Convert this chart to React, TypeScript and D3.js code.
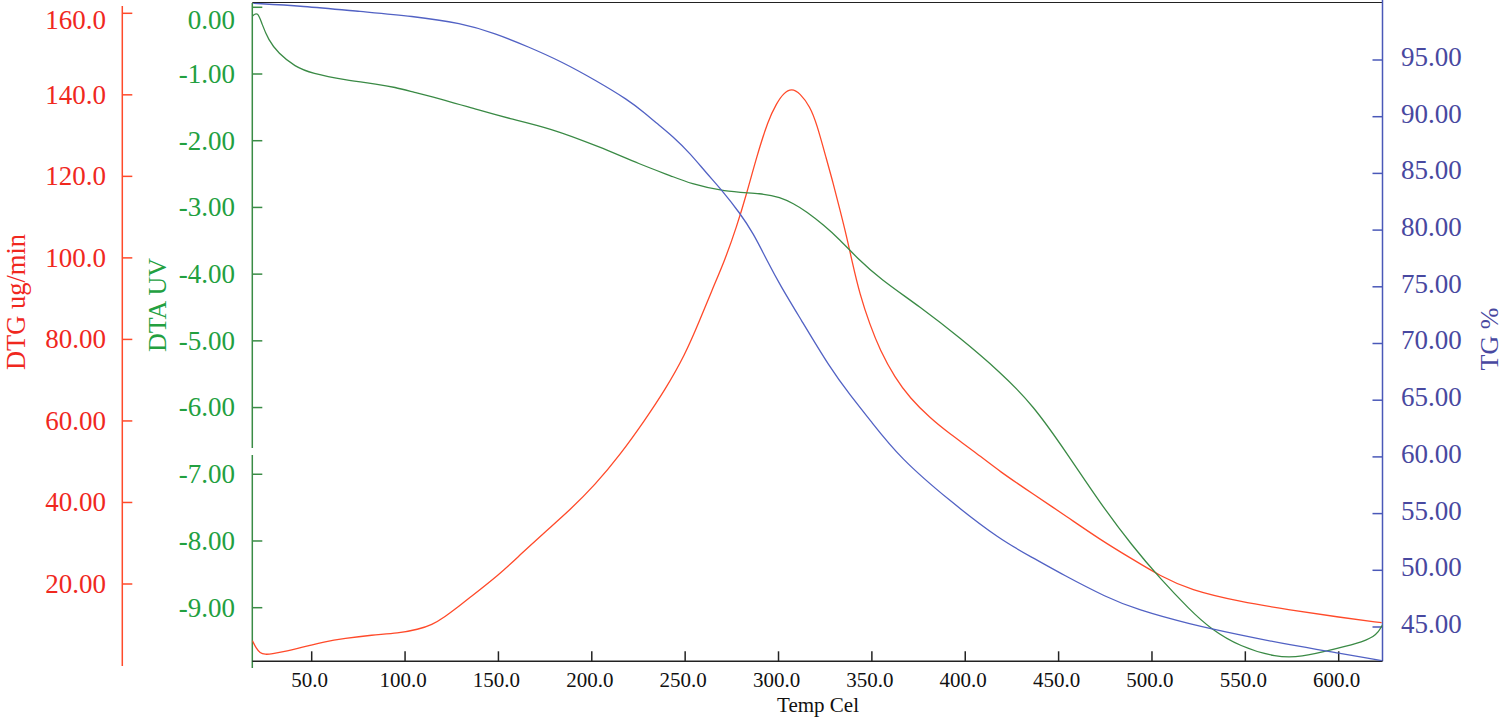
import React from 'react';
import * as d3 from 'd3';

// ---------- tick values and labels ----------
const tempTicks = [50, 100, 150, 200, 250, 300, 350, 400, 450, 500, 550, 600];
const tempTickLabels = ['50.0', '100.0', '150.0', '200.0', '250.0', '300.0', '350.0', '400.0', '450.0', '500.0', '550.0', '600.0'];
const dtgTicks = [20, 40, 60, 80, 100, 120, 140, 160];
const dtgTickLabels = ['20.00', '40.00', '60.00', '80.00', '100.0', '120.0', '140.0', '160.0'];
const dtaTicks = [0, -1, -2, -3, -4, -5, -6, -7, -8, -9];
const dtaTickLabels = ['0.00', '-1.00', '-2.00', '-3.00', '-4.00', '-5.00', '-6.00', '-7.00', '-8.00', '-9.00'];
const tgTicks = [95, 90, 85, 80, 75, 70, 65, 60, 55, 50, 45];
const tgTickLabels = ['95.00', '90.00', '85.00', '80.00', '75.00', '70.00', '65.00', '60.00', '55.00', '50.00', '45.00'];

// ---------- series ----------
const dtgTemp = [18.2, 20.2, 22.3, 25.0, 28.6, 35.7, 50.0, 55.4, 67.8, 82.1, 96.4, 107.1, 114.3, 121.4, 128.5, 133.0, 150.8, 161.5, 174.9, 188.3, 201.7, 215.1, 228.5, 239.2, 249.9, 257.9, 264.4, 271.3, 277.6, 283.0, 288.3, 294.5, 299.0, 302.6, 307.1, 311.5, 316.9, 320.4, 325.8, 329.3, 332.9, 336.5, 339.2, 343.6, 349.0, 354.3, 362.4, 370.4, 381.1, 391.8, 405.2, 418.6, 436.3, 454.5, 472.2, 489.8, 504.3, 520.4, 547.2, 573.9, 600.7, 623.0];
const dtgValues = [6.1, 4.3, 3.07, 2.7, 2.83, 3.39, 5.03, 5.7, 6.68, 7.49, 7.9, 8.89, 9.94, 11.98, 14.43, 16.07, 22.45, 27.11, 32.76, 38.15, 44.29, 51.65, 60.24, 67.6, 76.18, 84.77, 92.13, 99.49, 107.66, 115.85, 124.83, 133.84, 137.93, 140.39, 141.6, 140.39, 137.1, 133.0, 124.02, 118.31, 111.76, 105.21, 99.49, 90.9, 83.54, 77.41, 70.54, 65.63, 60.73, 56.8, 52.4, 47.55, 42.1, 36.5, 30.9, 26.0, 22.0, 18.53, 15.66, 13.62, 11.83, 10.51];

const dtaTemp = [18.3, 21.1, 23.2, 26.8, 32.1, 41.1, 50.0, 67.8, 85.7, 94.6, 103.6, 121.4, 139.2, 155.3, 177.6, 204.4, 225.8, 243.6, 252.6, 270.4, 291.8, 300.8, 307.9, 315.1, 324.0, 332.9, 341.9, 354.3, 375.8, 397.2, 418.6, 436.3, 454.5, 472.2, 489.8, 504.3, 520.4, 531.1, 547.2, 566.8, 579.3, 599.0, 613.2, 620.4, 623.4];
const dtaValues = [-0.13, -0.066, -0.24, -0.49, -0.69, -0.891, -0.99, -1.09, -1.154, -1.199, -1.265, -1.39, -1.54, -1.664, -1.81, -2.094, -2.354, -2.54, -2.64, -2.765, -2.789, -2.849, -2.939, -3.064, -3.26, -3.484, -3.754, -4.07, -4.49, -4.955, -5.465, -5.96, -6.687, -7.432, -8.087, -8.561, -9.036, -9.31, -9.586, -9.745, -9.745, -9.61, -9.511, -9.411, -9.261];

const tgTemp = [18.7, 44.6, 76.8, 103.6, 130.3, 148.2, 166.0, 183.9, 201.7, 219.6, 228.5, 234.8, 243.6, 252.6, 261.5, 269.6, 279.4, 286.5, 293.7, 300.8, 311.5, 327.6, 338.3, 349.0, 365.0, 391.8, 418.6, 436.3, 452.4, 475.8, 491.8, 520.4, 547.2, 573.9, 600.7, 623.0];
const tgValues = [100.0, 99.76, 99.26, 98.88, 98.24, 97.35, 96.17, 94.85, 93.24, 91.47, 90.3, 89.42, 88.24, 86.77, 85.01, 83.54, 81.48, 79.72, 77.36, 75.16, 72.25, 67.84, 65.46, 63.25, 59.9, 56.1, 52.7, 51.1, 49.6, 47.6, 46.55, 45.24, 44.3, 43.41, 42.68, 42.03];

// ---------- layout ----------
const W = 1505;
const H = 721;
const plotLeft = 252.3;
const plotRight = 1382.5;
const plotTop = 2.5;
const plotBottom = 661.3;
const redAxisX = 122.3;

const FONT = '"Liberation Serif", "Times New Roman", serif';
const RED_TEXT = '#f0281e';
const RED_LINE = '#ff4a2a';
const GREEN_TEXT = '#22a040';
const GREEN_AXIS = '#3a8c46';
const GREEN_LINE = '#3a8a45';
const BLUE_TEXT = '#4848a0';
const BLUE_AXIS = '#4a58b8';
const BLUE_LINE = '#5262c4';

const x = d3.scaleLinear().domain([50, 600]).range([311.7, 1338.7]);
const yDtg = d3.scaleLinear().domain([20, 160]).range([584, 13.3]);
const yDta = d3.scaleLinear().domain([-1, -9]).range([74, 607.7]);
const yTg = d3.scaleLinear().domain([95, 45]).range([60, 627]);

function makePath(temps: number[], vals: number[], y: d3.ScaleLinear<number, number>) {
  const pts = temps.map((t, i) => [t, vals[i]] as [number, number]);
  return d3
    .line<[number, number]>()
    .x((d) => x(d[0]))
    .y((d) => y(d[1]))
    .curve(d3.curveBasis)(pts) as string;
}

export default function App() {
  const axisFs = 27;
  const xFs = 21;
  const clampY = (v: number) => Math.max(v, 20);
  return (
    <svg
      width={W}
      height={H}
      style={{ position: 'fixed', left: 0, top: 0, background: '#fff' }}
      fontFamily={FONT}
    >
      <defs>
        <clipPath id="plotClip">
          <rect x={plotLeft} y={plotTop} width={plotRight - plotLeft} height={plotBottom - plotTop + 1} />
        </clipPath>
      </defs>
      <rect x={0} y={0} width={W} height={H} fill="#fff" />

      {/* top border */}
      <line x1={plotLeft} x2={plotRight} y1={plotTop} y2={plotTop} stroke="#222" strokeWidth={1.2} />

      {/* ---- red DTG axis ---- */}
      <line x1={redAxisX} x2={redAxisX} y1={6} y2={666} stroke={RED_LINE} strokeWidth={1.5} />
      {dtgTicks.map((t, i) => (
        <g key={'dtg' + t}>
          <line x1={redAxisX} x2={redAxisX + 10} y1={yDtg(t)} y2={yDtg(t)} stroke={RED_LINE} strokeWidth={1.5} />
          <text x={106} y={clampY(yDtg(t)) + 0.33 * axisFs} textAnchor="end" fontSize={axisFs} fill={RED_TEXT}>
            {dtgTickLabels[i]}
          </text>
        </g>
      ))}
      <text transform={`translate(25,302) rotate(-90)`} textAnchor="middle" fontSize={26.5} fill={RED_TEXT}>
        DTG ug/min
      </text>

      {/* ---- green DTA axis ---- */}
      <line x1={plotLeft} x2={plotLeft} y1={3} y2={448} stroke={GREEN_AXIS} strokeWidth={1.5} />
      <line x1={plotLeft} x2={plotLeft} y1={455} y2={668} stroke={GREEN_AXIS} strokeWidth={1.5} />
      {dtaTicks.map((t, i) => (
        <g key={'dta' + t}>
          <line x1={plotLeft} x2={plotLeft + 10} y1={yDta(t)} y2={yDta(t)} stroke={GREEN_AXIS} strokeWidth={1.5} />
          <text x={235} y={clampY(yDta(t)) + 0.33 * axisFs} textAnchor="end" fontSize={axisFs} fill={GREEN_TEXT}>
            {dtaTickLabels[i]}
          </text>
        </g>
      ))}
      <text transform={`translate(166,305) rotate(-90)`} textAnchor="middle" fontSize={26} fill={GREEN_TEXT}>
        DTA UV
      </text>

      {/* ---- blue TG axis ---- */}
      <line x1={plotRight} x2={plotRight} y1={0} y2={plotBottom} stroke={BLUE_AXIS} strokeWidth={1.5} />
      {tgTicks.map((t, i) => (
        <g key={'tg' + t}>
          <line x1={plotRight - 10} x2={plotRight} y1={yTg(t)} y2={yTg(t)} stroke={BLUE_AXIS} strokeWidth={1.5} />
          <text x={1401} y={yTg(t) - 3 + 0.33 * axisFs} textAnchor="start" fontSize={axisFs} fill={BLUE_TEXT}>
            {tgTickLabels[i]}
          </text>
        </g>
      ))}
      <text transform={`translate(1498,339) rotate(-90)`} textAnchor="middle" fontSize={26} fill={BLUE_TEXT}>
        TG %
      </text>

      {/* ---- x axis ---- */}
      <line x1={plotLeft} x2={plotRight} y1={plotBottom} y2={plotBottom} stroke="#222" strokeWidth={1.5} />
      {tempTicks.map((t, i) => (
        <g key={'x' + t}>
          <line x1={x(t)} x2={x(t)} y1={plotBottom} y2={plotBottom - 10} stroke="#222" strokeWidth={1.5} />
          <text x={x(t) - 2} y={687} textAnchor="middle" fontSize={xFs} fill="#111">
            {tempTickLabels[i]}
          </text>
        </g>
      ))}
      <text x={818} y={712} textAnchor="middle" fontSize={21} fill="#111">
        Temp Cel
      </text>

      {/* ---- curves ---- */}
      <g clipPath="url(#plotClip)" fill="none" strokeWidth={1.3} strokeLinejoin="round">
        <path d={makePath(dtgTemp, dtgValues, yDtg)} stroke={RED_LINE} />
        <path d={makePath(dtaTemp, dtaValues, yDta)} stroke={GREEN_LINE} />
        <path d={makePath(tgTemp, tgValues, yTg)} stroke={BLUE_LINE} />
      </g>
    </svg>
  );
}
